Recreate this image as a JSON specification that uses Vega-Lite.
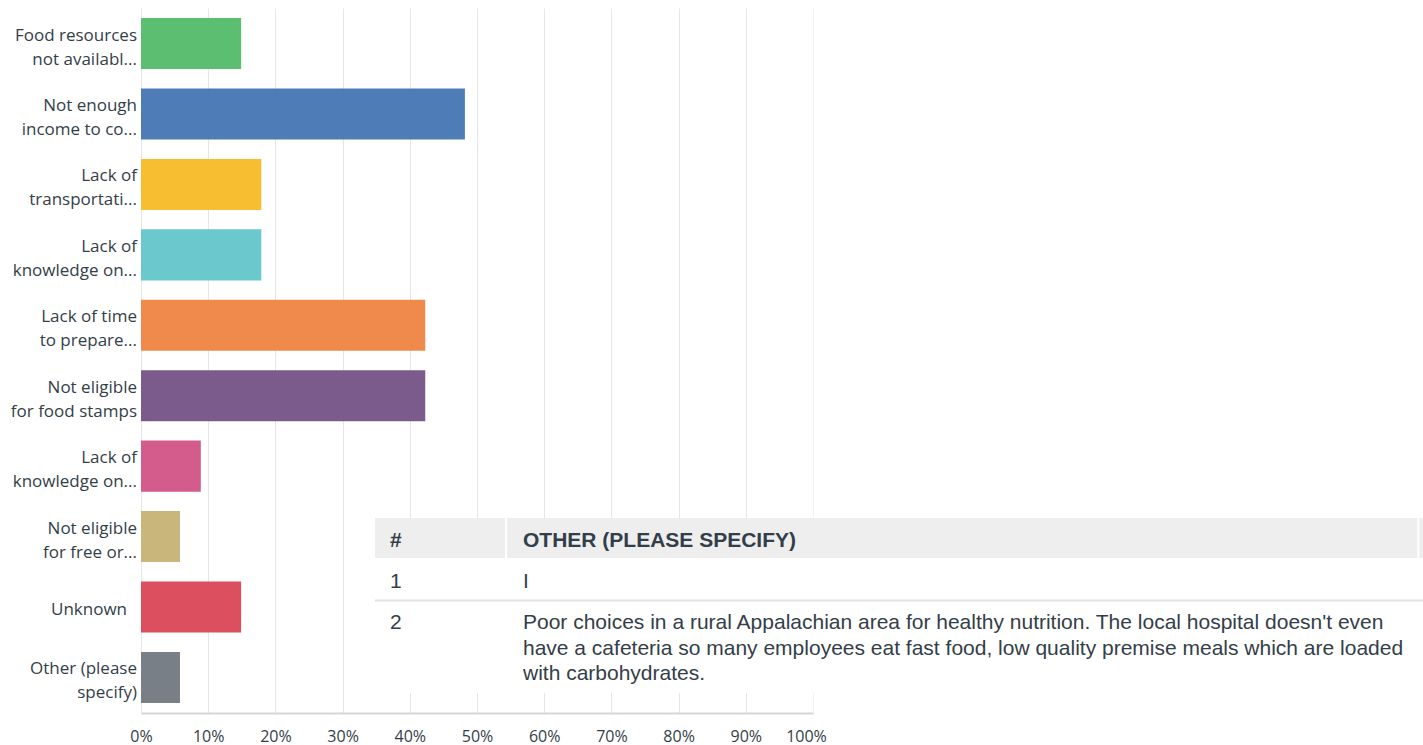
{
  "$schema": "https://vega.github.io/schema/vega-lite/v6.json",
  "width": 1282,
  "height": 705,
  "autosize": {"type": "none"},
  "padding": {"left": 141, "top": 8, "right": 0, "bottom": 32},
  "background": "white",
  "config": {"view": {"stroke": null}},
  "datasets": {
    "answers": [
      {"rank": 1, "answer": "Food resources\nnot availabl...", "pct": 0.149},
      {"rank": 2, "answer": "Not enough\nincome to co...", "pct": 0.482},
      {"rank": 3, "answer": "Lack of\ntransportati...", "pct": 0.179},
      {"rank": 4, "answer": "Lack of\nknowledge on...", "pct": 0.179},
      {"rank": 5, "answer": "Lack of time\nto prepare...", "pct": 0.423},
      {"rank": 6, "answer": "Not eligible\nfor food stamps", "pct": 0.423},
      {"rank": 7, "answer": "Lack of\nknowledge on...", "pct": 0.089},
      {"rank": 8, "answer": "Not eligible\nfor free or...", "pct": 0.058},
      {"rank": 9, "answer": "Unknown", "pct": 0.149},
      {"rank": 10, "answer": "Other (please\nspecify)", "pct": 0.058}
    ],
    "responses": [
      {"num": "1", "response": "I"},
      {"num": "2", "response": "Poor choices in a rural Appalachian area for healthy nutrition. The local hospital doesn't even\nhave a cafeteria so many employees eat fast food, low quality premise meals which are loaded\nwith carbohydrates."}
    ],
    "header": [
      {"num": "#", "response": "OTHER (PLEASE SPECIFY)"}
    ],
    "table": [{"part": "table"}]
  },
  "layer": [
    {
      "data": {"name": "answers"},
      "layer": [
        {
          "mark": {"type": "bar"},
          "encoding": {
            "y": {"field": "rank", "type": "ordinal", "scale": {"paddingInner": 0.275, "paddingOuter": 0.142}, "axis": null},
            "x": {
              "field": "pct", "type": "quantitative",
              "scale": {"domain": [0, 1], "range": [0, 672]},
              "axis": {
                "values": [0, 0.1, 0.2, 0.3, 0.4, 0.5, 0.6, 0.7, 0.8, 0.9, 1],
                "format": ".0%", "title": null, "ticks": false,
                "grid": true,
                "gridColor": {"condition": {"test": "datum.value == 1", "value": "#f3f3f3"}, "value": "#e6e6e6"},
                "domainColor": "#d6d6d6", "domainWidth": 2,
                "labelPadding": 15, "labelFontSize": 16, "labelFont": "Open Sans",
                "labelColor": "#333e48", "labelFlush": false,
                "labelOffset": {"condition": {"test": "datum.value == 1", "value": -7}, "value": 0}
              }
            },
            "color": {
              "field": "rank", "type": "ordinal", "legend": null,
              "scale": {"range": ["#5BBE71", "#4E7CB6", "#F8BE32", "#6BC8CC", "#F08A4C", "#7B5B8C", "#D35C8C", "#C8B67A", "#DC4F5E", "#797F87"]}
            }
          }
        },
        {
          "transform": [{"filter": "indexof(datum.answer, '\\n') >= 0"}],
          "mark": {"type": "text", "align": "right", "baseline": "middle", "lineBreak": "\n", "lineHeight": 24, "fontSize": 17, "font": "Open Sans", "color": "#333e48", "xOffset": -4, "dy": -8},
          "encoding": {
            "y": {"field": "rank", "type": "ordinal"},
            "x": {"datum": 0, "type": "quantitative"},
            "text": {"field": "answer"}
          }
        },
        {
          "transform": [{"filter": "indexof(datum.answer, '\\n') < 0"}],
          "mark": {"type": "text", "align": "right", "baseline": "middle", "fontSize": 17, "font": "Open Sans", "color": "#333e48", "xOffset": -14, "dy": 3},
          "encoding": {
            "y": {"field": "rank", "type": "ordinal"},
            "x": {"datum": 0, "type": "quantitative"},
            "text": {"field": "answer"}
          }
        }
      ]
    },
    {
      "layer": [
        {
          "data": {"name": "table"},
          "mark": {"type": "rect", "color": "white"},
          "encoding": {
            "x": {"datum": 0, "type": "quantitative", "scale": {"domain": [0, 100], "range": [234, 1282]}, "axis": null},
            "x2": {"datum": 100},
            "y": {"datum": 0, "type": "quantitative", "scale": {"domain": [0, 100], "range": [510, 685]}, "axis": null},
            "y2": {"datum": 100}
          }
        },
        {
          "data": {"name": "table"},
          "mark": {"type": "rect", "color": "#eeeeee"},
          "encoding": {
            "x": {"datum": 0, "type": "quantitative", "scale": {"domain": [0, 100], "range": [234, 1282]}, "axis": null},
            "x2": {"datum": 100},
            "y": {"datum": 0, "type": "quantitative", "scale": {"domain": [0, 100], "range": [510, 685]}, "axis": null},
            "y2": {"datum": 22.86}
          }
        },
        {
          "data": {"name": "table"},
          "mark": {"type": "rule", "color": "white", "strokeWidth": 2},
          "encoding": {
            "x": {"datum": 12.5, "type": "quantitative", "scale": {"domain": [0, 100], "range": [234, 1282]}, "axis": null},
            "y": {"datum": 0, "type": "quantitative", "scale": {"domain": [0, 100], "range": [510, 685]}, "axis": null},
            "y2": {"datum": 22.86}
          }
        },
        {
          "data": {"name": "table"},
          "mark": {"type": "rule", "color": "white", "strokeWidth": 2},
          "encoding": {
            "x": {"datum": 99.55, "type": "quantitative", "scale": {"domain": [0, 100], "range": [234, 1282]}, "axis": null},
            "y": {"datum": 0, "type": "quantitative", "scale": {"domain": [0, 100], "range": [510, 685]}, "axis": null},
            "y2": {"datum": 22.86}
          }
        },
        {
          "data": {"name": "table"},
          "mark": {"type": "rule", "color": "#e3e3e3", "strokeWidth": 2},
          "encoding": {
            "x": {"datum": 0, "type": "quantitative", "scale": {"domain": [0, 100], "range": [234, 1282]}, "axis": null},
            "x2": {"datum": 100},
            "y": {"datum": 47.1, "type": "quantitative", "scale": {"domain": [0, 100], "range": [510, 685]}, "axis": null}
          }
        },
        {
          "data": {"name": "header"},
          "layer": [
            {
              "mark": {"type": "text", "align": "left", "baseline": "top", "fontSize": 21, "fontWeight": "bold", "font": "Liberation Sans", "color": "#333e48"},
              "encoding": {
                "x": {"datum": 1.43, "type": "quantitative", "scale": {"domain": [0, 100], "range": [234, 1282]}, "axis": null},
                "y": {"field": "num", "type": "nominal", "scale": {"type": "point", "domain": ["#", "1", "2"], "range": [522, 604], "padding": 0}, "axis": null},
                "text": {"field": "num"}
              }
            },
            {
              "mark": {"type": "text", "align": "left", "baseline": "top", "fontSize": 21, "fontWeight": "bold", "font": "Liberation Sans", "color": "#333e48"},
              "encoding": {
                "x": {"datum": 14.12, "type": "quantitative", "scale": {"domain": [0, 100], "range": [234, 1282]}, "axis": null},
                "y": {"field": "num", "type": "nominal", "scale": {"type": "point", "domain": ["#", "1", "2"], "range": [522, 604], "padding": 0}, "axis": null},
                "text": {"field": "response"}
              }
            }
          ]
        },
        {
          "data": {"name": "responses"},
          "layer": [
            {
              "mark": {"type": "text", "align": "left", "baseline": "top", "fontSize": 21, "font": "Liberation Sans", "color": "#333e48"},
              "encoding": {
                "x": {"datum": 1.43, "type": "quantitative", "scale": {"domain": [0, 100], "range": [234, 1282]}, "axis": null},
                "y": {"field": "num", "type": "nominal", "scale": {"type": "point", "domain": ["#", "1", "2"], "range": [522, 604], "padding": 0}, "axis": null},
                "text": {"field": "num"}
              }
            },
            {
              "mark": {"type": "text", "align": "left", "baseline": "top", "fontSize": 21, "font": "Liberation Sans", "color": "#333e48", "lineBreak": "\n", "lineHeight": 25.5},
              "encoding": {
                "x": {"datum": 14.12, "type": "quantitative", "scale": {"domain": [0, 100], "range": [234, 1282]}, "axis": null},
                "y": {"field": "num", "type": "nominal", "scale": {"type": "point", "domain": ["#", "1", "2"], "range": [522, 604], "padding": 0}, "axis": null},
                "text": {"field": "response"}
              }
            }
          ]
        }
      ],
      "resolve": {"scale": {"y": "independent"}}
    }
  ],
  "resolve": {"scale": {"x": "independent", "y": "independent"}}
}
